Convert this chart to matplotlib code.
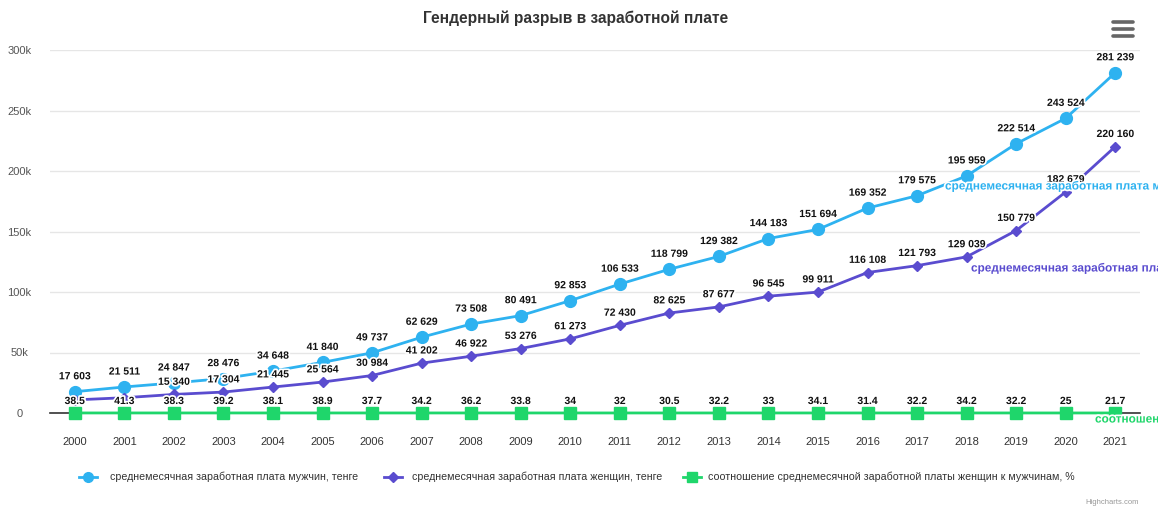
import matplotlib
matplotlib.use("Agg")
import matplotlib.pyplot as plt
import matplotlib.patheffects as pe
from matplotlib.lines import Line2D

plt.rcParams['font.family'] = ['Liberation Sans', 'DejaVu Sans']

years = [str(y) for y in range(2000, 2022)]
men = [17603, 21511, 24847, 28476, 34648, 41840, 49737, 62629, 73508, 80491,
       92853, 106533, 118799, 129382, 144183, 151694, 169352, 179575, 195959,
       222514, 243524, 281239]
women = [10826, 12627, 15340, 17304, 21445, 25564, 30984, 41202, 46922, 53276,
         61273, 72430, 82625, 87677, 96545, 99911, 116108, 121793, 129039,
         150779, 182679, 220160]
ratio = [38.5, 41.3, 38.3, 39.2, 38.1, 38.9, 37.7, 34.2, 36.2, 33.8, 34, 32,
         30.5, 32.2, 33, 34.1, 31.4, 32.2, 34.2, 32.2, 25, 21.7]
yticks = [0, 50000, 100000, 150000, 200000, 250000, 300000]
ytick_labels = ['0', '50k', '100k', '150k', '200k', '250k', '300k']

name_men = 'среднемесячная заработная плата мужчин, тенге'
name_women = 'среднемесячная заработная плата женщин, тенге'
name_ratio = 'соотношение среднемесячной заработной платы женщин к мужчинам, %'
title = 'Гендерный разрыв в заработной плате'

c_men = '#2eb2f0'
c_women = '#5a4ccf'
c_ratio = '#1fd66b'

W, H = 1158, 507
fig = plt.figure(figsize=(W / 100, H / 100), dpi=100)
ax = fig.add_axes([50 / W, (H - 413) / H, 1090 / W, 363 / H])
x = list(range(len(years)))

ax.set_xlim(-0.5, len(years) - 0.5)
ax.set_ylim(0, 300000)
ax.set_yticks(yticks)
ax.set_yticklabels(ytick_labels)
ax.grid(axis='y', color='#e6e6e6', linewidth=1)
ax.set_axisbelow(True)
for s in ['top', 'right', 'left']:
    ax.spines[s].set_visible(False)
ax.spines['bottom'].set_color('#333333')
ax.spines['bottom'].set_linewidth(1.2)
ax.tick_params(axis='y', length=0, labelsize=8, labelcolor='#555555', pad=22)
for lab in ax.get_yticklabels():
    lab.set_horizontalalignment('center')
ax.set_xticks(x)
ax.set_xticklabels(years)
ax.tick_params(axis='x', length=0, labelsize=8, labelcolor='#333333', pad=17)

ax.plot(x, men, color=c_men, lw=2, marker='o', ms=8.5, zorder=4, clip_on=False)
ax.plot(x, women, color=c_women, lw=2, marker='D', ms=5.5, zorder=4, clip_on=False)
ax.plot(x, ratio, color=c_ratio, lw=2, marker='s', ms=8, zorder=5, clip_on=False)

stroke = [pe.withStroke(linewidth=2.5, foreground='white')]

def fmt(v):
    return f"{v:,}".replace(',', ' ') if isinstance(v, int) else f"{v:g}"

for i, v in enumerate(men):
    ax.annotate(fmt(v), (i, v), xytext=(0, 7.5), textcoords='offset points',
                ha='center', va='bottom', fontsize=7.5, fontweight='bold',
                color='#111111', path_effects=stroke, zorder=6, annotation_clip=False)
for i, v in enumerate(women):
    if i < 2:
        continue
    ax.annotate(fmt(v), (i, v), xytext=(0, 5.5), textcoords='offset points',
                ha='center', va='bottom', fontsize=7.5, fontweight='bold',
                color='#111111', path_effects=stroke, zorder=6, annotation_clip=False)
for i, v in enumerate(ratio):
    ax.annotate(fmt(v), (i, v), xytext=(0, 5), textcoords='offset points',
                ha='center', va='bottom', fontsize=7.5, fontweight='bold',
                color='#111111', path_effects=stroke, zorder=7, annotation_clip=False)

# series labels (clipped at figure edge, as in the reference)
fig.text(945 / W, 1 - 186 / H, name_men, color=c_men, fontsize=8.5,
         fontweight='bold', ha='left', va='center', path_effects=stroke)
fig.text(971 / W, 1 - 268 / H, name_women, color=c_women, fontsize=8.5,
         fontweight='bold', ha='left', va='center', path_effects=stroke)
fig.text(1095 / W, 1 - 419 / H, name_ratio, color=c_ratio, fontsize=8.5,
         fontweight='bold', ha='left', va='center', path_effects=stroke, zorder=8)

# title
fig.text(576 / W, 1 - 18 / H, title, ha='center', va='center',
         fontsize=11.2, fontweight='bold', color='#333333')

# hamburger menu
for yy in [22, 29, 36]:
    fig.add_artist(Line2D([1113 / W, 1133 / W], [1 - yy / H, 1 - yy / H],
                          color='#666666', lw=2.6, solid_capstyle='round'))

# legend
leg_items = [(88, 110, name_men, c_men, 'o', 7),
             (393, 412, name_women, c_women, 'D', 5),
             (692, 708, name_ratio, c_ratio, 's', 6.5)]
ly = 1 - 477 / H
for mx, tx, name, col, mk, ms in leg_items:
    fig.add_artist(Line2D([(mx - 9) / W, (mx + 9) / W], [ly, ly], color=col, lw=2))
    fig.add_artist(Line2D([mx / W], [ly], color=col, marker=mk, ms=ms, lw=0))
    fig.text(tx / W, ly, name, ha='left', va='center', fontsize=7.7, color='#333333')

fig.text(1112 / W, 1 - 503 / H, 'Highcharts.com', ha='center', va='center',
         fontsize=5.5, color='#999999')

fig.savefig('out.png', dpi=100, facecolor='white')
